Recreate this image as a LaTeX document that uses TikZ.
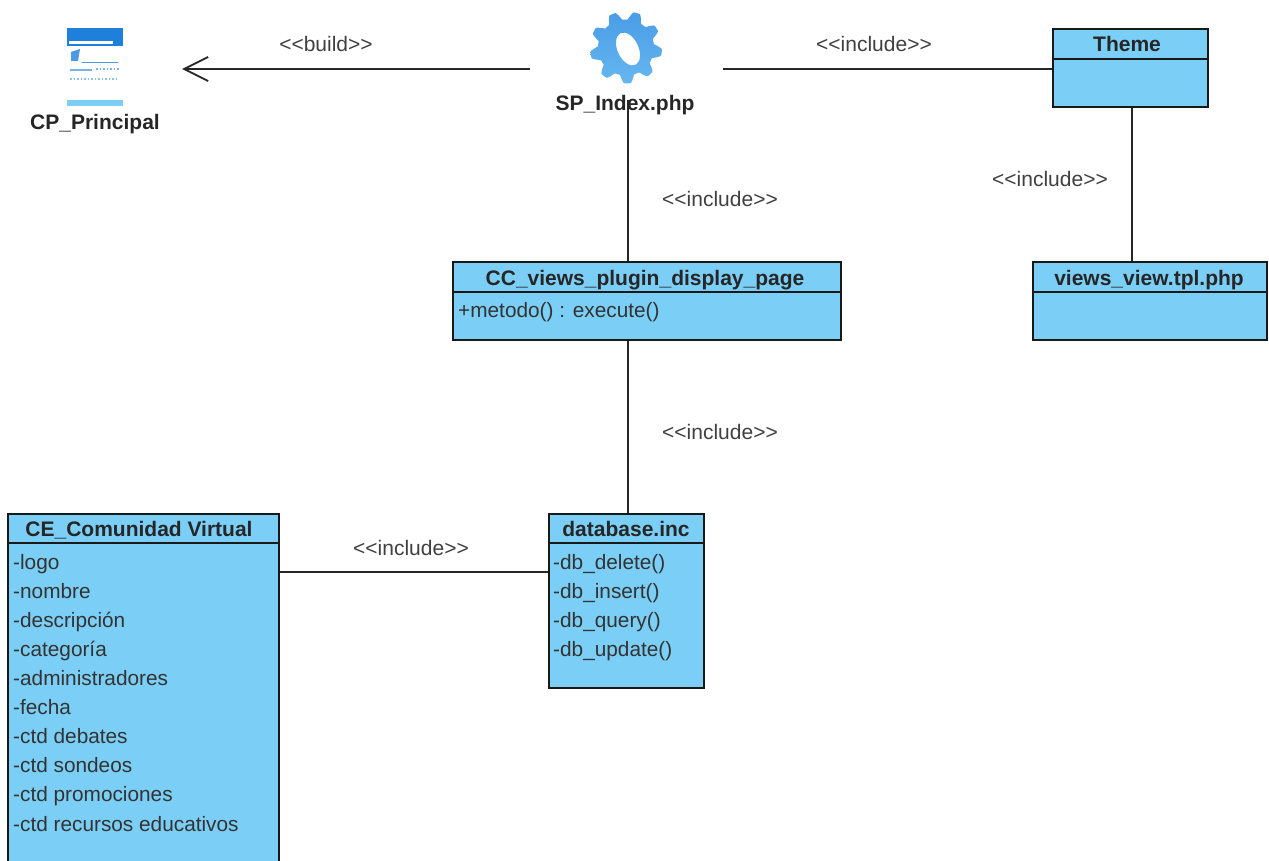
\documentclass[tikz,border=0pt]{standalone}
\usepackage{fontspec}
\setmainfont{Liberation Sans}
\usetikzlibrary{arrows.meta}
\definecolor{classblue}{HTML}{7BCEF6}
\definecolor{gearblue}{HTML}{4A9DE6}
\definecolor{gearlight}{HTML}{66B6F0}
\definecolor{pagetop}{HTML}{1F80DC}
\tikzset{
  classbox/.style={draw=black!90,line width=1.7pt,fill=classblue,inner sep=0pt},
  classname/.style={font=\fontsize{21}{24}\selectfont\bfseries,text=black!85,inner sep=0pt,text height=18pt,text depth=4pt},
  member/.style={font=\fontsize{20.8}{24}\selectfont,text=black!80,anchor=west,inner sep=0pt,text height=18pt,text depth=4pt},
  stereo/.style={font=\fontsize{21}{24}\selectfont,text=black!75,inner sep=0pt,text height=18pt,text depth=4pt},
  link/.style={line width=1.8pt,black!85}
}
\begin{document}
\begin{tikzpicture}[x=1pt,y=-1pt]
\clip (0,0) rectangle (1269,861);
\fill[white] (0,0) rectangle (1269,861);
% client page icon
\node (principal) [minimum width=174pt,minimum height=62pt,inner sep=0pt] at (95,69) {};
\fill[pagetop] (67,28) rectangle (123,46);
\fill[white] (69,41) rectangle (113,44);
\fill[pagetop!80] (71,52) -- (80,49) -- (78,61) -- (71,61) -- cycle;
\draw[pagetop!80,line width=1pt] (82,62.5) -- (118,62.5);
\draw[pagetop!60,line width=1.5pt] (70,70) -- (92,70);
\draw[pagetop!60,line width=1.5pt,dotted] (96,69) -- (119,69);
\draw[pagetop!50,line width=1.5pt,dotted] (70,79) -- (117,79);
\fill[classblue] (67,100) rectangle (123,106);
\node (principalname) [classname] at (95,123) {CP\_Principal};
% server page icon
\coordinate (indexlink) at (628,180);
\node (index) [minimum width=193pt,minimum height=62pt,inner sep=0pt] at (626.5,69) {};
\shade[top color=gearblue,bottom color=gearlight,even odd rule] plot[domain=0:360,samples=200,smooth] ({626+(32+4*max(min(1.5*sin(9*\x+20),1),-1))*cos(\x)},{47.5+(32+4*max(min(1.5*sin(9*\x+20),1),-1))*sin(\x)}) -- cycle
  [rotate around={25:(628,49)}] (628,49) ellipse (10.5 and 17.5);
\node (indexname) [classname] at (625,104) {SP\_Index.php};
% classes
\coordinate (themelink) at (1132,180);
\node (themebox) [classbox,minimum width=155pt,minimum height=78pt] at (1130.5,68) {};
\draw[classbox] (1053,59) -- (1208,59);
\node (themename) [classname] at (1127,45) {Theme};
\node (viewsbox) [classbox,minimum width=234pt,minimum height=78pt] at (1150,301) {};
\draw[classbox] (1033,292) -- (1267,292);
\node (viewsname) [classname] at (1149,278) {views\_view.tpl.php};
\node (ccbox) [classbox,minimum width=388pt,minimum height=78pt] at (647,301) {};
\draw[classbox] (453,292) -- (841,292);
\node (ccname) [classname] at (645,278) {CC\_views\_plugin\_display\_page};
\node (execute) [member] at (458,310) {+metodo() : execute()};
\node (dbbox) [classbox,minimum width=155pt,minimum height=174pt] at (626.5,601) {};
\draw[classbox] (549,543) -- (704,543);
\node (dbname) [classname] at (626,529) {database.inc};
\node (dbdelete) [member] at (553,562) {-db\_delete()};
\node (dbinsert) [member] at (553,591) {-db\_insert()};
\node (dbquery) [member] at (553,620) {-db\_query()};
\node (dbupdate) [member] at (553,649) {-db\_update()};
\node (cebox) [classbox,minimum width=271pt,minimum height=380pt] at (143.5,704) {};
\draw[classbox] (8,543) -- (279,543);
\node (cename) [classname] at (139,529) {CE\_Comunidad Virtual};
\node (logo) [member] at (13,562) {-logo};
\node (nombre) [member] at (13,591) {-nombre};
\node (descripcion) [member] at (13,620) {-descripción};
\node (categoria) [member] at (13,649) {-categoría};
\node (admins) [member] at (13,678) {-administradores};
\node (fecha) [member] at (13,707) {-fecha};
\node (debates) [member] at (13,736) {-ctd debates};
\node (sondeos) [member] at (13,765) {-ctd sondeos};
\node (promociones) [member] at (13,794) {-ctd promociones};
\node (recursos) [member] at (13,824) {-ctd recursos educativos};
% relations
\coordinate (celink) at (400,572);
\draw[link,-{Straight Barb[length=24pt,width=24pt,line width=1.8pt]}] (index.west) -- (principal.east);
\draw[link] (index.east) -- (themebox.west |- index.east);
\draw[link] (index.south -| indexlink) -- (ccbox.north -| indexlink);
\draw[link] (themebox.south -| themelink) -- (viewsbox.north -| themelink);
\draw[link] (ccbox.south -| indexlink) -- (dbbox.north -| indexlink);
\draw[link] (cebox.east |- celink) -- (dbbox.west |- celink);
% stereotypes
\node (buildtag) [stereo] at (326,45) {{<}{<}build{>}{>}};
\node (themetag) [stereo] at (874,45) {{<}{<}include{>}{>}};
\node (viewstag) [stereo] at (1050,180) {{<}{<}include{>}{>}};
\node (cctag) [stereo] at (720,200) {{<}{<}include{>}{>}};
\node (dbtag) [stereo] at (720,432) {{<}{<}include{>}{>}};
\node (cetag) [stereo] at (411,548) {{<}{<}include{>}{>}};
\end{tikzpicture}
\end{document}
